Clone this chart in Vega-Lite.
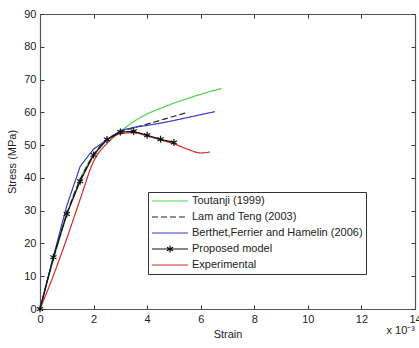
{
  "$schema": "https://vega.github.io/schema/vega-lite/v6.json",
  "width": 375,
  "height": 295,
  "autosize": {"type": "none"},
  "padding": {"left": 40, "top": 14, "right": 4, "bottom": 39},
  "background": "white",
  "title": {"text": "x 10⁻³", "orient": "bottom", "anchor": "end", "frame": "group", "fontSize": 11, "fontWeight": "normal", "font": "Liberation Sans", "color": "#222", "offset": -14},
  "config": {
    "view": {"stroke": null},
    "font": "Liberation Sans",
    "axis": {
      "grid": false,
      "domainColor": "#555",
      "domainWidth": 1.2,
      "tickColor": "#333",
      "tickSize": -4,
      "labelFontSize": 11,
      "labelColor": "#222",
      "labelFlush": false,
      "titleFontSize": 11,
      "titleFontWeight": "normal",
      "titleColor": "#222",
      "labelPadding": 8
    },
    "legend": {
      "orient": "none",
      "legendX": 108,
      "legendY": 178,
      "strokeColor": "#333",
      "fillColor": "white",
      "padding": 3,
      "symbolType": "stroke",
      "symbolSize": 1300,
      "symbolStrokeWidth": 1.2,
      "clipHeight": 12,
      "rowPadding": 4,
      "labelFontSize": 11,
      "labelColor": "#222",
      "labelOffset": 3,
      "labelLimit": 300
    }
  },
  "data": {
    "values": [
      {"series": "Toutanji (1999)", "strain": 0, "stress": 0},
      {"series": "Toutanji (1999)", "strain": 0.5, "stress": 15},
      {"series": "Toutanji (1999)", "strain": 1, "stress": 28.5},
      {"series": "Toutanji (1999)", "strain": 1.5, "stress": 39.5},
      {"series": "Toutanji (1999)", "strain": 2, "stress": 47},
      {"series": "Toutanji (1999)", "strain": 2.5, "stress": 51.5},
      {"series": "Toutanji (1999)", "strain": 3, "stress": 54.2},
      {"series": "Toutanji (1999)", "strain": 3.5, "stress": 57.2},
      {"series": "Toutanji (1999)", "strain": 4, "stress": 59.5},
      {"series": "Toutanji (1999)", "strain": 4.5, "stress": 61.2},
      {"series": "Toutanji (1999)", "strain": 5, "stress": 62.8},
      {"series": "Toutanji (1999)", "strain": 5.5, "stress": 64.2},
      {"series": "Toutanji (1999)", "strain": 6, "stress": 65.5},
      {"series": "Toutanji (1999)", "strain": 6.78, "stress": 67.3},
      {"series": "Lam and Teng (2003)", "strain": 0, "stress": 0},
      {"series": "Lam and Teng (2003)", "strain": 0.5, "stress": 15.5},
      {"series": "Lam and Teng (2003)", "strain": 1, "stress": 29},
      {"series": "Lam and Teng (2003)", "strain": 1.5, "stress": 39.5},
      {"series": "Lam and Teng (2003)", "strain": 2, "stress": 47},
      {"series": "Lam and Teng (2003)", "strain": 2.5, "stress": 51.7},
      {"series": "Lam and Teng (2003)", "strain": 3, "stress": 54},
      {"series": "Lam and Teng (2003)", "strain": 3.5, "stress": 55.3},
      {"series": "Lam and Teng (2003)", "strain": 4, "stress": 56.4},
      {"series": "Lam and Teng (2003)", "strain": 4.5, "stress": 57.6},
      {"series": "Lam and Teng (2003)", "strain": 5, "stress": 58.8},
      {"series": "Lam and Teng (2003)", "strain": 5.53, "stress": 60},
      {"series": "Berthet,Ferrier and Hamelin (2006)", "strain": 0, "stress": 0},
      {"series": "Berthet,Ferrier and Hamelin (2006)", "strain": 0.5, "stress": 16},
      {"series": "Berthet,Ferrier and Hamelin (2006)", "strain": 1, "stress": 31.5},
      {"series": "Berthet,Ferrier and Hamelin (2006)", "strain": 1.5, "stress": 43.5},
      {"series": "Berthet,Ferrier and Hamelin (2006)", "strain": 2, "stress": 48.8},
      {"series": "Berthet,Ferrier and Hamelin (2006)", "strain": 2.5, "stress": 51.6},
      {"series": "Berthet,Ferrier and Hamelin (2006)", "strain": 3, "stress": 54.4},
      {"series": "Berthet,Ferrier and Hamelin (2006)", "strain": 3.5, "stress": 55.4},
      {"series": "Berthet,Ferrier and Hamelin (2006)", "strain": 4, "stress": 56},
      {"series": "Berthet,Ferrier and Hamelin (2006)", "strain": 4.5, "stress": 56.7},
      {"series": "Berthet,Ferrier and Hamelin (2006)", "strain": 5, "stress": 57.5},
      {"series": "Berthet,Ferrier and Hamelin (2006)", "strain": 5.5, "stress": 58.4},
      {"series": "Berthet,Ferrier and Hamelin (2006)", "strain": 6, "stress": 59.3},
      {"series": "Berthet,Ferrier and Hamelin (2006)", "strain": 6.53, "stress": 60.2},
      {"series": "Proposed model", "strain": 0, "stress": 0},
      {"series": "Proposed model", "strain": 0.5, "stress": 15.8},
      {"series": "Proposed model", "strain": 1, "stress": 29},
      {"series": "Proposed model", "strain": 1.5, "stress": 39},
      {"series": "Proposed model", "strain": 2, "stress": 47},
      {"series": "Proposed model", "strain": 2.5, "stress": 51.7},
      {"series": "Proposed model", "strain": 3, "stress": 54},
      {"series": "Proposed model", "strain": 3.5, "stress": 54.2},
      {"series": "Proposed model", "strain": 4, "stress": 53},
      {"series": "Proposed model", "strain": 4.5, "stress": 51.8},
      {"series": "Proposed model", "strain": 5, "stress": 50.8},
      {"series": "Experimental", "strain": 0, "stress": 0},
      {"series": "Experimental", "strain": 0.5, "stress": 10.2},
      {"series": "Experimental", "strain": 1, "stress": 21.5},
      {"series": "Experimental", "strain": 1.5, "stress": 33.5},
      {"series": "Experimental", "strain": 2, "stress": 45},
      {"series": "Experimental", "strain": 2.5, "stress": 50.5},
      {"series": "Experimental", "strain": 3, "stress": 53.5},
      {"series": "Experimental", "strain": 3.5, "stress": 53.8},
      {"series": "Experimental", "strain": 4, "stress": 52.8},
      {"series": "Experimental", "strain": 4.5, "stress": 51.6},
      {"series": "Experimental", "strain": 5, "stress": 50.4},
      {"series": "Experimental", "strain": 5.5, "stress": 48.8},
      {"series": "Experimental", "strain": 6, "stress": 47.6},
      {"series": "Experimental", "strain": 6.34, "stress": 47.9}
    ]
  },
  "layer": [
    {
      "transform": [{"filter": "datum.series === 'Toutanji (1999)' || datum.series === 'Lam and Teng (2003)' || datum.series === 'Experimental'"}],
      "mark": {"type": "line", "strokeWidth": 1.2, "interpolate": "monotone"},
      "encoding": {
        "x": {"field": "strain", "type": "quantitative", "scale": {"domain": [0, 14], "nice": false}, "axis": {"orient": "bottom", "title": "Strain", "values": [0, 2, 4, 6, 8, 10, 12, 14], "titlePadding": 4}},
        "y": {"field": "stress", "type": "quantitative", "scale": {"domain": [0, 90], "nice": false}, "axis": {"orient": "left", "title": "Stress (MPa)", "values": [0, 10, 20, 30, 40, 50, 60, 70, 80, 90], "titlePadding": 6}},
        "color": {"field": "series", "type": "nominal", "title": null,
          "scale": {"domain": ["Toutanji (1999)", "Lam and Teng (2003)", "Berthet,Ferrier and Hamelin (2006)", "Proposed model", "Experimental"],
                    "range": ["#4fd64f", "#222222", "#3a3ac8", "#111111", "#d42a2a"]},
          "legend": {"encode": {"symbols": {"update": {"shape": {"signal": "datum.label === 'Proposed model' ? 'M-1,0L1,0M0,-0.2L0,0.2M-0.17,-0.1L0.17,0.1M-0.17,0.1L0.17,-0.1' : 'stroke'"}}}}}},
        "strokeDash": {"field": "series", "type": "nominal", "title": null,
          "scale": {"domain": ["Toutanji (1999)", "Lam and Teng (2003)", "Berthet,Ferrier and Hamelin (2006)", "Proposed model", "Experimental"],
                    "range": [[1, 0], [6, 3], [1, 0], [1, 0], [1, 0]]},
          "legend": {"encode": {"symbols": {"update": {"shape": {"signal": "datum.label === 'Proposed model' ? 'M-1,0L1,0M0,-0.2L0,0.2M-0.17,-0.1L0.17,0.1M-0.17,0.1L0.17,-0.1' : 'stroke'"}}}}}}
      }
    },
    {
      "transform": [{"filter": "datum.series === 'Berthet,Ferrier and Hamelin (2006)' || datum.series === 'Proposed model'"}],
      "mark": {"type": "line", "strokeWidth": 1.2, "interpolate": "linear"},
      "encoding": {
        "x": {"field": "strain", "type": "quantitative", "scale": {"domain": [0, 14], "nice": false}, "axis": null},
        "y": {"field": "stress", "type": "quantitative", "scale": {"domain": [0, 90], "nice": false}, "axis": null},
        "color": {"field": "series", "type": "nominal", "title": null},
        "strokeDash": {"field": "series", "type": "nominal", "title": null}
      }
    },
    {
      "transform": [{"filter": "datum.series === 'Proposed model'"}],
      "mark": {"type": "point", "shape": "M0,-1L0,1M-0.87,-0.5L0.87,0.5M-0.87,0.5L0.87,-0.5", "filled": false, "stroke": "#111", "strokeWidth": 1.2, "size": 50, "opacity": 1},
      "encoding": {
        "x": {"field": "strain", "type": "quantitative", "scale": {"domain": [0, 14], "nice": false}, "axis": {"orient": "top", "labels": false, "title": null, "values": [0, 2, 4, 6, 8, 10, 12, 14]}},
        "y": {"field": "stress", "type": "quantitative", "scale": {"domain": [0, 90], "nice": false}, "axis": {"orient": "right", "labels": false, "title": null, "values": [0, 10, 20, 30, 40, 50, 60, 70, 80, 90]}}
      }
    }
  ],
  "resolve": {"axis": {"x": "independent", "y": "independent"}}
}
